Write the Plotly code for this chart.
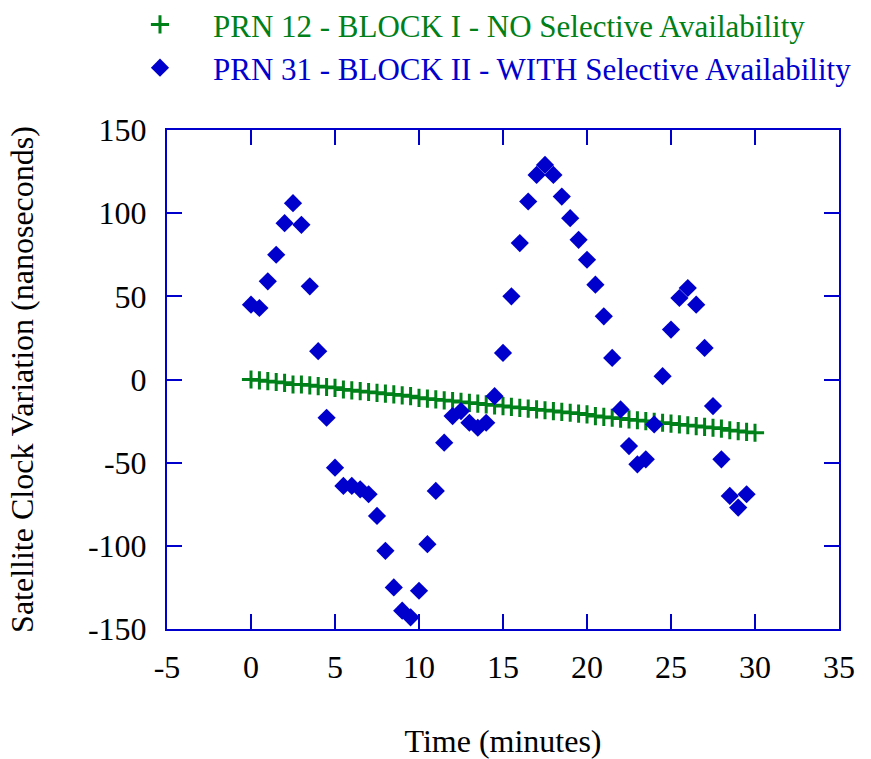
import plotly.graph_objects as go

# PRN 12 (Block I, no SA) - time in minutes and clock variation (ns)
t_prn12 = [0, 0.5, 1, 1.5, 2, 2.5, 3, 3.5, 4, 4.5, 5, 5.5, 6, 6.5, 7, 7.5, 8, 8.5, 9, 9.5,
           10, 10.5, 11, 11.5, 12, 12.5, 13, 13.5, 14, 14.5, 15, 15.5, 16, 16.5, 17, 17.5,
           18, 18.5, 19, 19.5, 20, 20.5, 21, 21.5, 22, 22.5, 23, 23.5, 24, 24.5, 25, 25.5,
           26, 26.5, 27, 27.5, 28, 28.5, 29, 29.5, 30]
v_prn12 = [0, -0.5, -1, -1.5, -2, -3, -3, -3.5, -4, -4.5, -5, -6, -6.5, -7, -7.5, -8, -8.5, -9, -9.5, -10,
           -11, -11.5, -12, -12.5, -13, -13.5, -14, -14.5, -15, -15.5, -16, -16.5, -17, -17.5, -18, -18.5,
           -19, -19.5, -20, -20.5, -21, -22, -22.5, -23, -23.5, -24, -24.5, -25, -25.5, -26, -26.5, -27,
           -27.5, -28, -28.5, -29, -29.5, -30.5, -31, -31.5, -32]

# PRN 31 (Block II, with SA)
t_prn31 = [0, 0.5, 1, 1.5, 2, 2.5, 3, 3.5, 4, 4.5, 5, 5.5, 6, 6.5, 7, 7.5, 8, 8.5, 9, 9.5,
           10, 10.5, 11, 11.5, 12, 12.5, 13, 13.5, 14, 14.5, 15, 15.5, 16, 16.5, 17, 17.5,
           18, 18.5, 19, 19.5, 20, 20.5, 21, 21.5, 22, 22.5, 23, 23.5, 24, 24.5, 25, 25.5,
           26, 26.5, 27, 27.5, 28, 28.5, 29, 29.5]
v_prn31 = [45, 43, 59, 75, 94, 106, 93, 56, 17, -23, -53, -64, -64, -66, -69, -82, -103, -125, -139, -143,
           -127, -99, -67, -38, -22, -19, -26, -29, -26, -10, 16, 50, 82, 107, 123, 129, 123, 110, 97, 84,
           72, 57, 38, 13, -18, -40, -51, -48, -27, 2, 30, 49, 55, 45, 19, -16, -48, -70, -77, -69]

x_ticks = [-5, 0, 5, 10, 15, 20, 25, 30, 35]
x_ticklabels = ["-5", "0", "5", "10", "15", "20", "25", "30", "35"]
y_ticks = [-150, -100, -50, 0, 50, 100, 150]
y_ticklabels = ["-150", "-100", "-50", "0", "50", "100", "150"]

GREEN = "#008018"
BLUE = "#0000CC"
FONT = "Liberation Serif"
FS = 32

fig = go.Figure()
fig.add_trace(go.Scatter(
    x=t_prn12, y=v_prn12, mode="markers",
    name=f"<span style='color:{GREEN}'>PRN 12 - BLOCK I - NO Selective Availability</span>",
    marker=dict(symbol="cross-thin", size=13, line=dict(color=GREEN, width=3), color=GREEN),
))
fig.add_trace(go.Scatter(
    x=t_prn31, y=v_prn31, mode="markers",
    name=f"<span style='color:{BLUE}'>PRN 31 - BLOCK II - WITH Selective Availability</span>",
    marker=dict(symbol="diamond", size=14, color=BLUE),
))

axis_common = dict(
    showline=True, linecolor=BLUE, linewidth=2, mirror="ticks",
    ticks="inside", ticklen=15, tickwidth=2, tickcolor=BLUE,
    showgrid=False, zeroline=False, automargin=False,
    tickfont=dict(family=FONT, size=FS, color="black"),
)

fig.update_layout(
    width=871, height=759,
    margin=dict(l=167, r=32, t=130, b=130, autoexpand=False),
    paper_bgcolor="white", plot_bgcolor="white",
    font=dict(family=FONT, size=FS, color="black"),
    xaxis=dict(range=[-5, 35], tickvals=x_ticks, ticktext=x_ticklabels, ticklabelstandoff=9,
               title=dict(text="Time (minutes)", font=dict(family=FONT, size=FS), standoff=48),
               **axis_common),
    yaxis=dict(range=[-150, 150], tickvals=y_ticks, ticktext=y_ticklabels, ticklabelstandoff=12,
               title=dict(text="Satellite Clock Variation (nanoseconds)", font=dict(family=FONT, size=FS), standoff=45),
               **axis_common),
    legend=dict(x=-0.0893, y=1.265, xanchor="left", yanchor="top",
                bgcolor="rgba(0,0,0,0)",
                font=dict(family=FONT, size=31), itemwidth=96),
    showlegend=True,
)

fig.write_html("out.html")
